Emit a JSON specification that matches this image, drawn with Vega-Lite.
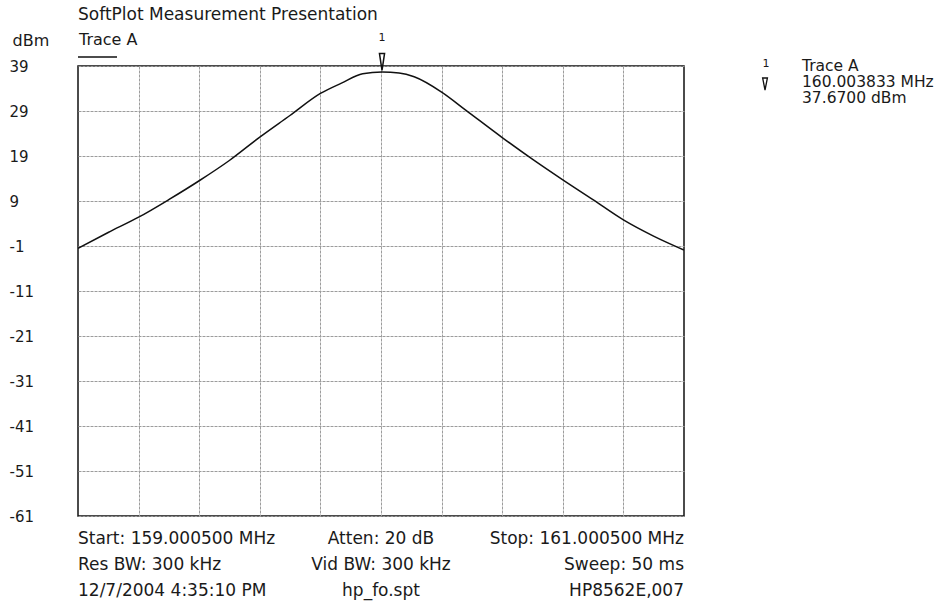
{
  "$schema": "https://vega.github.io/schema/vega-lite/v6.json",
  "width": 606,
  "height": 450,
  "autosize": "none",
  "padding": {"left": 78, "top": 66, "right": 264, "bottom": 90},
  "background": "white",
  "config": {
    "font": "DejaVu Sans",
    "view": {"stroke": "#111", "strokeWidth": 1.5},
    "text": {"font": "DejaVu Sans", "fontSize": 17, "color": "#1a1a1a", "baseline": "middle"},
    "axis": {
      "grid": true,
      "gridColor": "#9c9c9c",
      "gridDash": [3, 1],
      "gridWidth": 1,
      "ticks": false,
      "domain": false
    }
  },
  "datasets": {
    "trace": [
      {"f": 159.0005, "db": -1.5},
      {"f": 159.1, "db": 2.0},
      {"f": 159.2005, "db": 5.4},
      {"f": 159.3, "db": 9.3},
      {"f": 159.4005, "db": 13.5},
      {"f": 159.5, "db": 18.0},
      {"f": 159.6005, "db": 23.2},
      {"f": 159.7, "db": 28.0},
      {"f": 159.8005, "db": 32.9},
      {"f": 159.87, "db": 35.2},
      {"f": 159.94, "db": 37.3},
      {"f": 160.003833, "db": 37.67},
      {"f": 160.06, "db": 37.45},
      {"f": 160.11, "db": 36.6},
      {"f": 160.2005, "db": 33.2},
      {"f": 160.28, "db": 29.2},
      {"f": 160.4005, "db": 23.1},
      {"f": 160.5, "db": 18.3},
      {"f": 160.6005, "db": 13.7},
      {"f": 160.7, "db": 9.3},
      {"f": 160.8005, "db": 4.8},
      {"f": 160.9, "db": 1.2},
      {"f": 161.0005, "db": -1.9}
    ],
    "marker": [
      {"f": 160.003833, "db": 37.67, "id": "1"}
    ],
    "notes": [
      {"kind": "heading", "text": "SoftPlot Measurement Presentation", "f": 159.0005, "db": 50.3},
      {"kind": "label", "text": "Trace A", "f": 159.0038, "db": 44.8},
      {"kind": "legend", "text": "Trace A", "f": 161.3899, "db": 39.1},
      {"kind": "legend", "text": "160.003833 MHz", "f": 161.3899, "db": 35.4},
      {"kind": "legend", "text": "37.6700 dBm", "f": 161.3899, "db": 31.8},
      {"kind": "small", "text": "1", "f": 161.2711, "db": 39.5},
      {"kind": "left", "text": "Start: 159.000500 MHz", "f": 159.0005, "db": -66.1},
      {"kind": "left", "text": "Res BW: 300 kHz", "f": 159.0005, "db": -71.9},
      {"kind": "left", "text": "12/7/2004 4:35:10 PM", "f": 159.0005, "db": -77.7},
      {"kind": "center", "text": "Atten: 20 dB", "f": 160.0005, "db": -66.1},
      {"kind": "center", "text": "Vid BW: 300 kHz", "f": 160.0005, "db": -71.9},
      {"kind": "center", "text": "hp_fo.spt", "f": 160.0005, "db": -77.7},
      {"kind": "right", "text": "Stop: 161.000500 MHz", "f": 161.0005, "db": -66.1},
      {"kind": "right", "text": "Sweep: 50 ms", "f": 161.0005, "db": -71.9},
      {"kind": "right", "text": "HP8562E,007", "f": 161.0005, "db": -77.7}
    ],
    "underline": [
      {"f": 159.0005, "f2": 159.1292, "db": 41.0}
    ],
    "legendMarker": [
      {"f": 161.2679, "db": 35.0}
    ]
  },
  "encoding": {
    "x": {
      "field": "f",
      "type": "quantitative",
      "scale": {"domain": [159.0005, 161.0005], "nice": false, "zero": false},
      "axis": {
        "values": [159.2005, 159.4005, 159.6005, 159.8005, 160.0005, 160.2005, 160.4005, 160.6005, 160.8005],
        "labels": false,
        "title": null
      }
    },
    "y": {
      "field": "db",
      "type": "quantitative",
      "scale": {"domain": [-61, 39], "nice": false, "zero": false},
      "axis": {
        "values": [39, 29, 19, 9, -1, -11, -21, -31, -41, -51, -61],
        "labelExpr": "datum.value < 0 ? '-' + abs(datum.value) : '\u00a0\u200a' + datum.value",
        "labelAlign": "left",
        "labelBaseline": "middle",
        "labelPadding": 69,
        "labelFont": "DejaVu Sans",
        "labelFontSize": 15,
        "labelColor": "#1a1a1a",
        "title": "dBm",
        "titleAngle": 0,
        "titleX": -66,
        "titleY": -26,
        "titleAlign": "left",
        "titleBaseline": "middle",
        "titleFont": "DejaVu Sans",
        "titleFontSize": 16,
        "titleFontWeight": "normal",
        "titleColor": "#1a1a1a"
      }
    }
  },
  "layer": [
    {
      "data": {"name": "trace"},
      "mark": {"type": "line", "color": "#111", "strokeWidth": 1.5, "interpolate": "monotone", "clip": true}
    },
    {
      "data": {"name": "marker"},
      "mark": {"type": "point", "shape": "M-0.3,-1L0.3,-1L0,1Z", "size": 289, "filled": false, "stroke": "#111", "strokeWidth": 1.5, "opacity": 1, "yOffset": -10}
    },
    {
      "data": {"name": "marker"},
      "mark": {"type": "text", "fontSize": 11, "dy": -34, "align": "center"},
      "encoding": {"text": {"field": "id"}}
    },
    {
      "data": {"name": "legendMarker"},
      "mark": {"type": "point", "shape": "M-0.4,-1L0.4,-1L0,1Z", "size": 144, "filled": false, "stroke": "#111", "strokeWidth": 1.3, "opacity": 1}
    },
    {
      "data": {"name": "underline"},
      "mark": {"type": "rule", "color": "#111", "strokeWidth": 1.3},
      "encoding": {"x2": {"field": "f2"}}
    },
    {
      "data": {"name": "notes"},
      "transform": [{"filter": "datum.kind === 'heading' || datum.kind === 'left'"}],
      "mark": {"type": "text", "align": "left"},
      "encoding": {"text": {"field": "text"}}
    },
    {
      "data": {"name": "notes"},
      "transform": [{"filter": "datum.kind === 'label'"}],
      "mark": {"type": "text", "align": "left", "fontSize": 16},
      "encoding": {"text": {"field": "text"}}
    },
    {
      "data": {"name": "notes"},
      "transform": [{"filter": "datum.kind === 'legend'"}],
      "mark": {"type": "text", "align": "left", "fontSize": 15.5},
      "encoding": {"text": {"field": "text"}}
    },
    {
      "data": {"name": "notes"},
      "transform": [{"filter": "datum.kind === 'small'"}],
      "mark": {"type": "text", "align": "center", "fontSize": 11},
      "encoding": {"text": {"field": "text"}}
    },
    {
      "data": {"name": "notes"},
      "transform": [{"filter": "datum.kind === 'center'"}],
      "mark": {"type": "text", "align": "center"},
      "encoding": {"text": {"field": "text"}}
    },
    {
      "data": {"name": "notes"},
      "transform": [{"filter": "datum.kind === 'right'"}],
      "mark": {"type": "text", "align": "right"},
      "encoding": {"text": {"field": "text"}}
    }
  ]
}
